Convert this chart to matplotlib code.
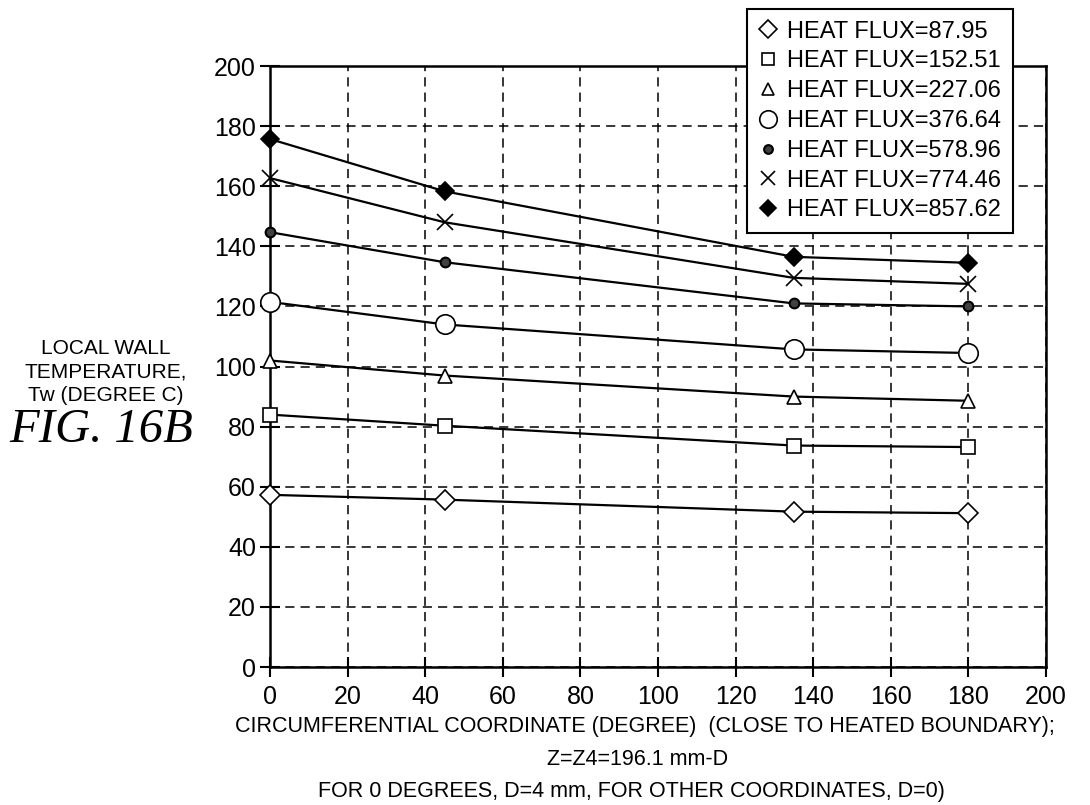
import matplotlib
matplotlib.use('Agg')
import matplotlib.pyplot as plt

# data
angle = [0, 45, 135, 180]
flux_labels = ['HEAT FLUX=87.95', 'HEAT FLUX=152.51', 'HEAT FLUX=227.06', 'HEAT FLUX=376.64',
               'HEAT FLUX=578.96', 'HEAT FLUX=774.46', 'HEAT FLUX=857.62']
tw_87 = [57.3, 55.7, 51.7, 51.2]
tw_152 = [84.0, 80.3, 73.7, 73.2]
tw_227 = [102.0, 97.0, 90.0, 88.6]
tw_376 = [121.5, 114.0, 105.7, 104.5]
tw_578 = [144.7, 134.7, 121.0, 120.0]
tw_774 = [162.7, 148.0, 129.5, 127.5]
tw_857 = [175.7, 158.3, 136.5, 134.5]
series = [tw_87, tw_152, tw_227, tw_376, tw_578, tw_774, tw_857]

x_ticks = list(range(0, 201, 20))
y_ticks = list(range(0, 201, 20))

plt.rcParams['font.family'] = ['Liberation Sans', 'DejaVu Sans']

styles = [dict(marker='D', ms=10, mfc='white', mec='black', mew=1.2),
          dict(marker='s', ms=10, mfc='white', mec='black', mew=1.2),
          dict(marker='^', ms=10, mfc='white', mec='black', mew=1.2),
          dict(marker='o', ms=14, mfc='white', mec='black', mew=1.2),
          dict(marker='o', ms=7, mfc='0.25', mec='black', mew=1.5),
          dict(marker='x', ms=11, mfc='none', mec='black', mew=1.2),
          dict(marker='D', ms=9, mfc='black', mec='black', mew=1.2)]

fig = plt.figure(figsize=(10.9, 8.05), dpi=100)
ax = fig.add_axes([0.2477, 0.1714, 0.9596 - 0.2477, 0.918 - 0.1714])

for ys, st, lab in zip(series, styles, flux_labels):
    ax.plot(angle, ys, color='black', lw=1.6, zorder=3, clip_on=False)
    ax.plot(angle, ys, linestyle='none', label=lab, zorder=4, clip_on=False, **st)

ax.set_xlim(0, 200)
ax.set_ylim(0, 200)
ax.set_xticks(x_ticks)
ax.set_yticks(y_ticks)
ax.grid(True, color='black', linestyle=(0, (6, 4)), linewidth=1.1)
for s in ax.spines.values():
    s.set_linewidth(1.8)
ax.tick_params(direction='inout', length=14, width=1.5, labelsize=18)
ax.tick_params(axis='x', pad=6)
ax.tick_params(axis='y', pad=3)

leg = fig.legend(loc='upper left', bbox_to_anchor=(0.685, 0.989), borderaxespad=0,
                 frameon=True, fancybox=False, edgecolor='black', framealpha=1,
                 handlelength=0.8, handletextpad=0.4, borderpad=0.5, labelspacing=0.33,
                 markerscale=0.9, prop={'family': ['Liberation Sans', 'DejaVu Sans'], 'size': 17})
leg.get_frame().set_linewidth(1.5)

fig.text(0.097, 0.538, 'LOCAL WALL\nTEMPERATURE,\nTw (DEGREE C)', ha='center', va='center',
         fontsize=15, linespacing=1.3)
fig.text(0.093, 0.466, 'FIG. 16B', ha='center', va='center', fontsize=35,
         family=['Liberation Serif', 'DejaVu Serif'], style='italic')

fig.text(0.592, 0.097, 'CIRCUMFERENTIAL COORDINATE (DEGREE)  (CLOSE TO HEATED BOUNDARY);',
         ha='center', va='center', fontsize=15.5)
fig.text(0.585, 0.057, 'Z=Z4=196.1 mm-D', ha='center', va='center', fontsize=15.5)
fig.text(0.579, 0.017, 'FOR 0 DEGREES, D=4 mm, FOR OTHER COORDINATES, D=0)',
         ha='center', va='center', fontsize=15.5)

fig.savefig('out.png', dpi=100)
